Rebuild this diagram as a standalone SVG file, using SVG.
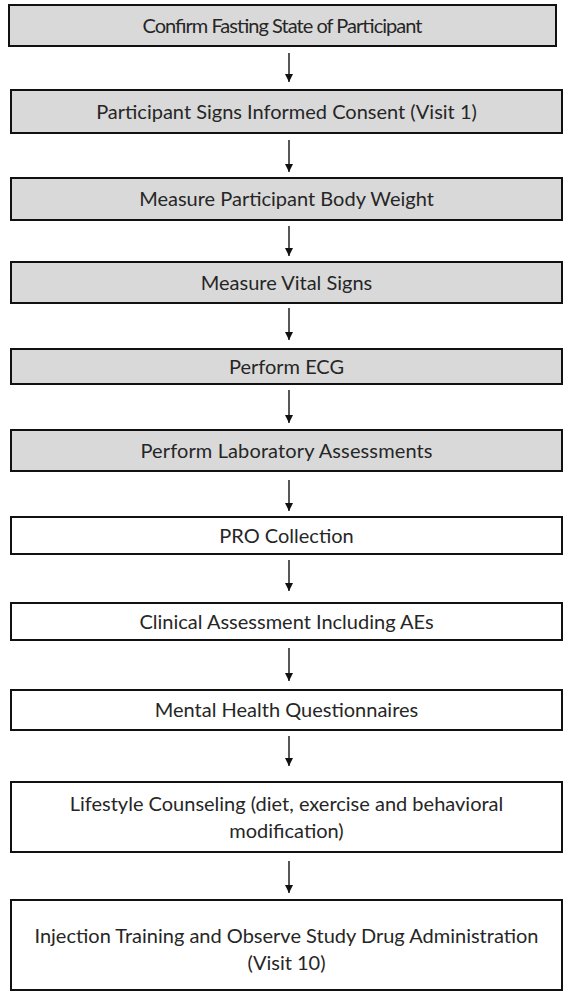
<svg xmlns="http://www.w3.org/2000/svg" width="564" height="994" viewBox="0 0 564 994">
  <style>
    .box rect { stroke: #111; stroke-width: 2; }
    .shaded rect { fill: #d9d9d9; }
    .plain rect { fill: #ffffff; }
    text { font-family: "Lato", "Liberation Sans", sans-serif; font-size: 20px; fill: #262626; text-anchor: middle; }
    .arrow { stroke: #111; stroke-width: 1.4; fill: none; marker-end: url(#head); }
  </style>
  <defs>
    <marker id="head" viewBox="0 0 10 10" refX="10" refY="5" markerWidth="9" markerHeight="8" markerUnits="userSpaceOnUse" orient="auto">
      <path d="M0,0 L10,5 L0,10 Z" fill="#111"/>
    </marker>
  </defs>
  <rect width="564" height="994" fill="#ffffff"/>

  <!-- steps -->
  <g id="step-fasting" class="box shaded">
    <rect x="9" y="5" width="547" height="41"/>
    <text x="282.5" y="32.5" textLength="280" lengthAdjust="spacing">Confirm Fasting State of Participant</text>
  </g>
  <g id="step-consent" class="box shaded">
    <rect x="11" y="90" width="551" height="43"/>
    <text x="286.5" y="118.5">Participant Signs Informed Consent (Visit 1)</text>
  </g>
  <g id="step-weight" class="box shaded">
    <rect x="11" y="178" width="551" height="42"/>
    <text x="286.5" y="206">Measure Participant Body Weight</text>
  </g>
  <g id="step-vitals" class="box shaded">
    <rect x="11" y="262" width="551" height="41"/>
    <text x="286.5" y="289.5">Measure Vital Signs</text>
  </g>
  <g id="step-ecg" class="box shaded">
    <rect x="11" y="349" width="551" height="35"/>
    <text x="286.5" y="373.5">Perform ECG</text>
  </g>
  <g id="step-lab" class="box shaded">
    <rect x="11" y="430" width="551" height="41"/>
    <text x="286.5" y="457.5" textLength="292" lengthAdjust="spacing">Perform Laboratory Assessments</text>
  </g>
  <g id="step-pro" class="box plain">
    <rect x="11" y="517" width="551" height="37"/>
    <text x="286.5" y="542.5">PRO Collection</text>
  </g>
  <g id="step-clinical" class="box plain">
    <rect x="11" y="603" width="551" height="37"/>
    <text x="286.5" y="628.5">Clinical Assessment Including AEs</text>
  </g>
  <g id="step-mental" class="box plain">
    <rect x="11" y="690" width="551" height="40"/>
    <text x="286.5" y="717">Mental Health Questionnaires</text>
  </g>
  <g id="step-lifestyle" class="box plain">
    <rect x="11" y="782" width="551" height="70"/>
    <text x="286.5" y="811">Lifestyle  Counseling (diet, exercise and behavioral</text>
    <text x="286.5" y="838">modification)</text>
  </g>
  <g id="step-injection" class="box plain">
    <rect x="11" y="900" width="551" height="90"/>
    <text x="286.5" y="943">Injection Training and Observe Study Drug Administration</text>
    <text x="286.5" y="970">(Visit 10)</text>
  </g>

  <!-- connectors -->
  <g id="connectors">
    <line class="arrow" x1="289" y1="53" x2="289" y2="82"/>
    <line class="arrow" x1="289" y1="140" x2="289" y2="172"/>
    <line class="arrow" x1="289" y1="226" x2="289" y2="256"/>
    <line class="arrow" x1="289" y1="308" x2="289" y2="340"/>
    <line class="arrow" x1="289" y1="390" x2="289" y2="423"/>
    <line class="arrow" x1="289" y1="480" x2="289" y2="511"/>
    <line class="arrow" x1="289" y1="560" x2="289" y2="591"/>
    <line class="arrow" x1="289" y1="648" x2="289" y2="681"/>
    <line class="arrow" x1="289" y1="736" x2="289" y2="766"/>
    <line class="arrow" x1="289" y1="861" x2="289" y2="893"/>
  </g>
</svg>
